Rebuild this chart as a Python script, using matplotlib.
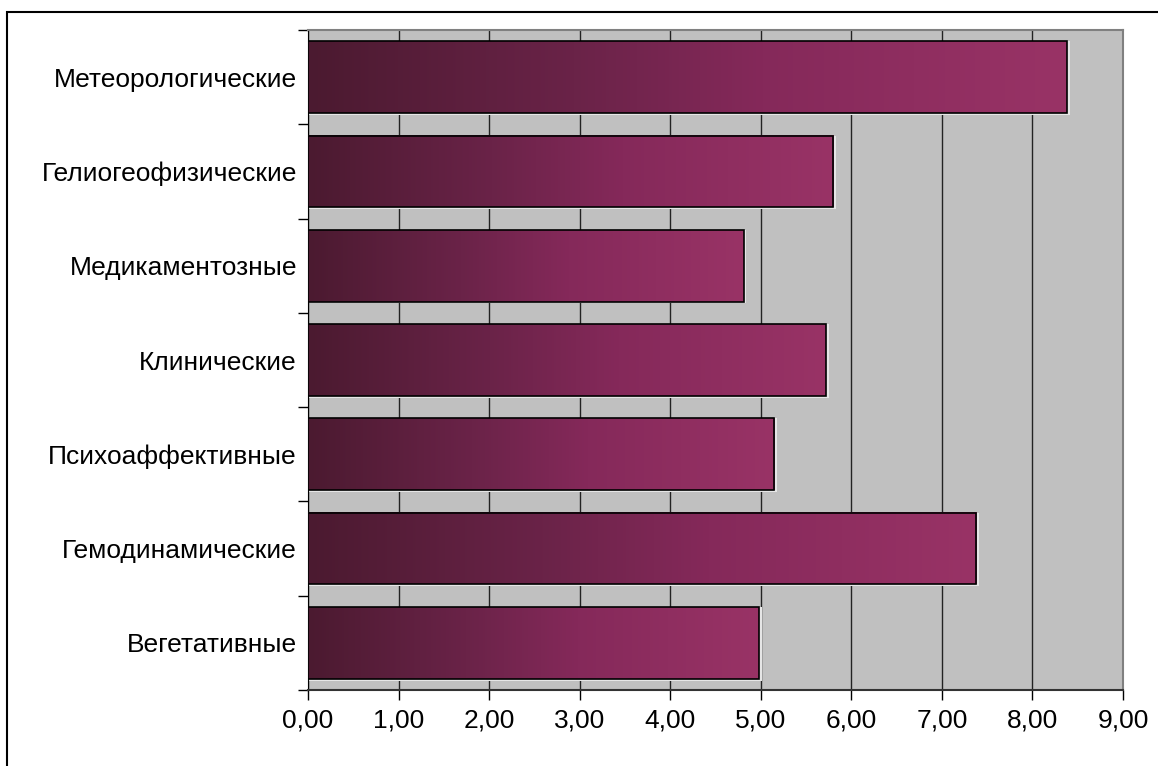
import numpy as np
import matplotlib
matplotlib.use("Agg")
from matplotlib import pyplot as plt
from matplotlib.colors import LinearSegmentedColormap
from matplotlib.ticker import FuncFormatter, FixedLocator
from matplotlib.patches import Rectangle

# категории сверху вниз и значения
categories = ["Метеорологические", "Гелиогеофизические", "Медикаментозные",
              "Клинические", "Психоаффективные", "Гемодинамические", "Вегетативные"]
values = [8.38, 5.80, 4.81, 5.72, 5.15, 7.38, 4.98]
xticks = [0, 1, 2, 3, 4, 5, 6, 7, 8, 9]

plt.rcParams['font.family'] = ['Liberation Sans', 'DejaVu Sans']

fig = plt.figure(figsize=(11.58, 7.66), dpi=100)
ax = fig.add_axes([308/1158, 1-690/766, (1123-308)/1158, (690-30)/766])
ax.set_facecolor("#c0c0c0")

# рамка всей диаграммы
fig.patches.append(Rectangle((7/1158, -0.1), 1.2, 1-12/766+0.1, transform=fig.transFigure,
                             fill=False, edgecolor="black", linewidth=1.5))

cmap = LinearSegmentedColormap.from_list("plum", [(0, "#4b1a30"), (0.35, "#6a2348"),
                                                   (0.6, "#85295a"), (1, "#993366")])
grad = np.linspace(0, 1, 256).reshape(1, -1)
h = 0.76
for i, v in enumerate(values):
    # тень справа и снизу
    ax.add_patch(Rectangle((0, i - h/2), v + 0.03, h + 0.02, facecolor="#e6e6e6",
                           edgecolor="none", zorder=2))
    ax.imshow(grad, cmap=cmap, aspect="auto", extent=[0, v, i + h/2, i - h/2],
              zorder=3, interpolation="bilinear")
    ax.add_patch(Rectangle((0, i - h/2), v, h, fill=False, edgecolor="black",
                           linewidth=1.2, zorder=4))

ax.set_xlim(0, 9)
ax.set_ylim(len(categories) - 0.5, -0.5)

ax.set_xticks(xticks)
ax.xaxis.set_major_formatter(FuncFormatter(lambda x, p: f"{x:.2f}".replace(".", ",")))
ax.grid(axis="x", color="#222222", linewidth=1, zorder=1)
ax.set_axisbelow(True)

ax.yaxis.set_major_locator(FixedLocator(np.arange(-0.5, len(categories), 1)))
ax.yaxis.set_major_formatter(FuncFormatter(lambda y, p: ""))
ax.yaxis.set_minor_locator(FixedLocator(np.arange(len(categories))))
ax.set_yticklabels(categories, minor=True)
ax.tick_params(axis="y", which="minor", length=0, pad=8, labelsize=19)
ax.tick_params(axis="y", which="major", length=7, width=1, direction="out")
ax.tick_params(axis="x", length=7, width=1, direction="out", labelsize=19, pad=6)

for s in ["top", "right"]:
    ax.spines[s].set_color("#808080")
    ax.spines[s].set_linewidth(1.5)
ax.spines["left"].set_color("black")
ax.spines["bottom"].set_color("#333333")
ax.spines["bottom"].set_linewidth(1.5)

fig.savefig("out.png", dpi=100)
